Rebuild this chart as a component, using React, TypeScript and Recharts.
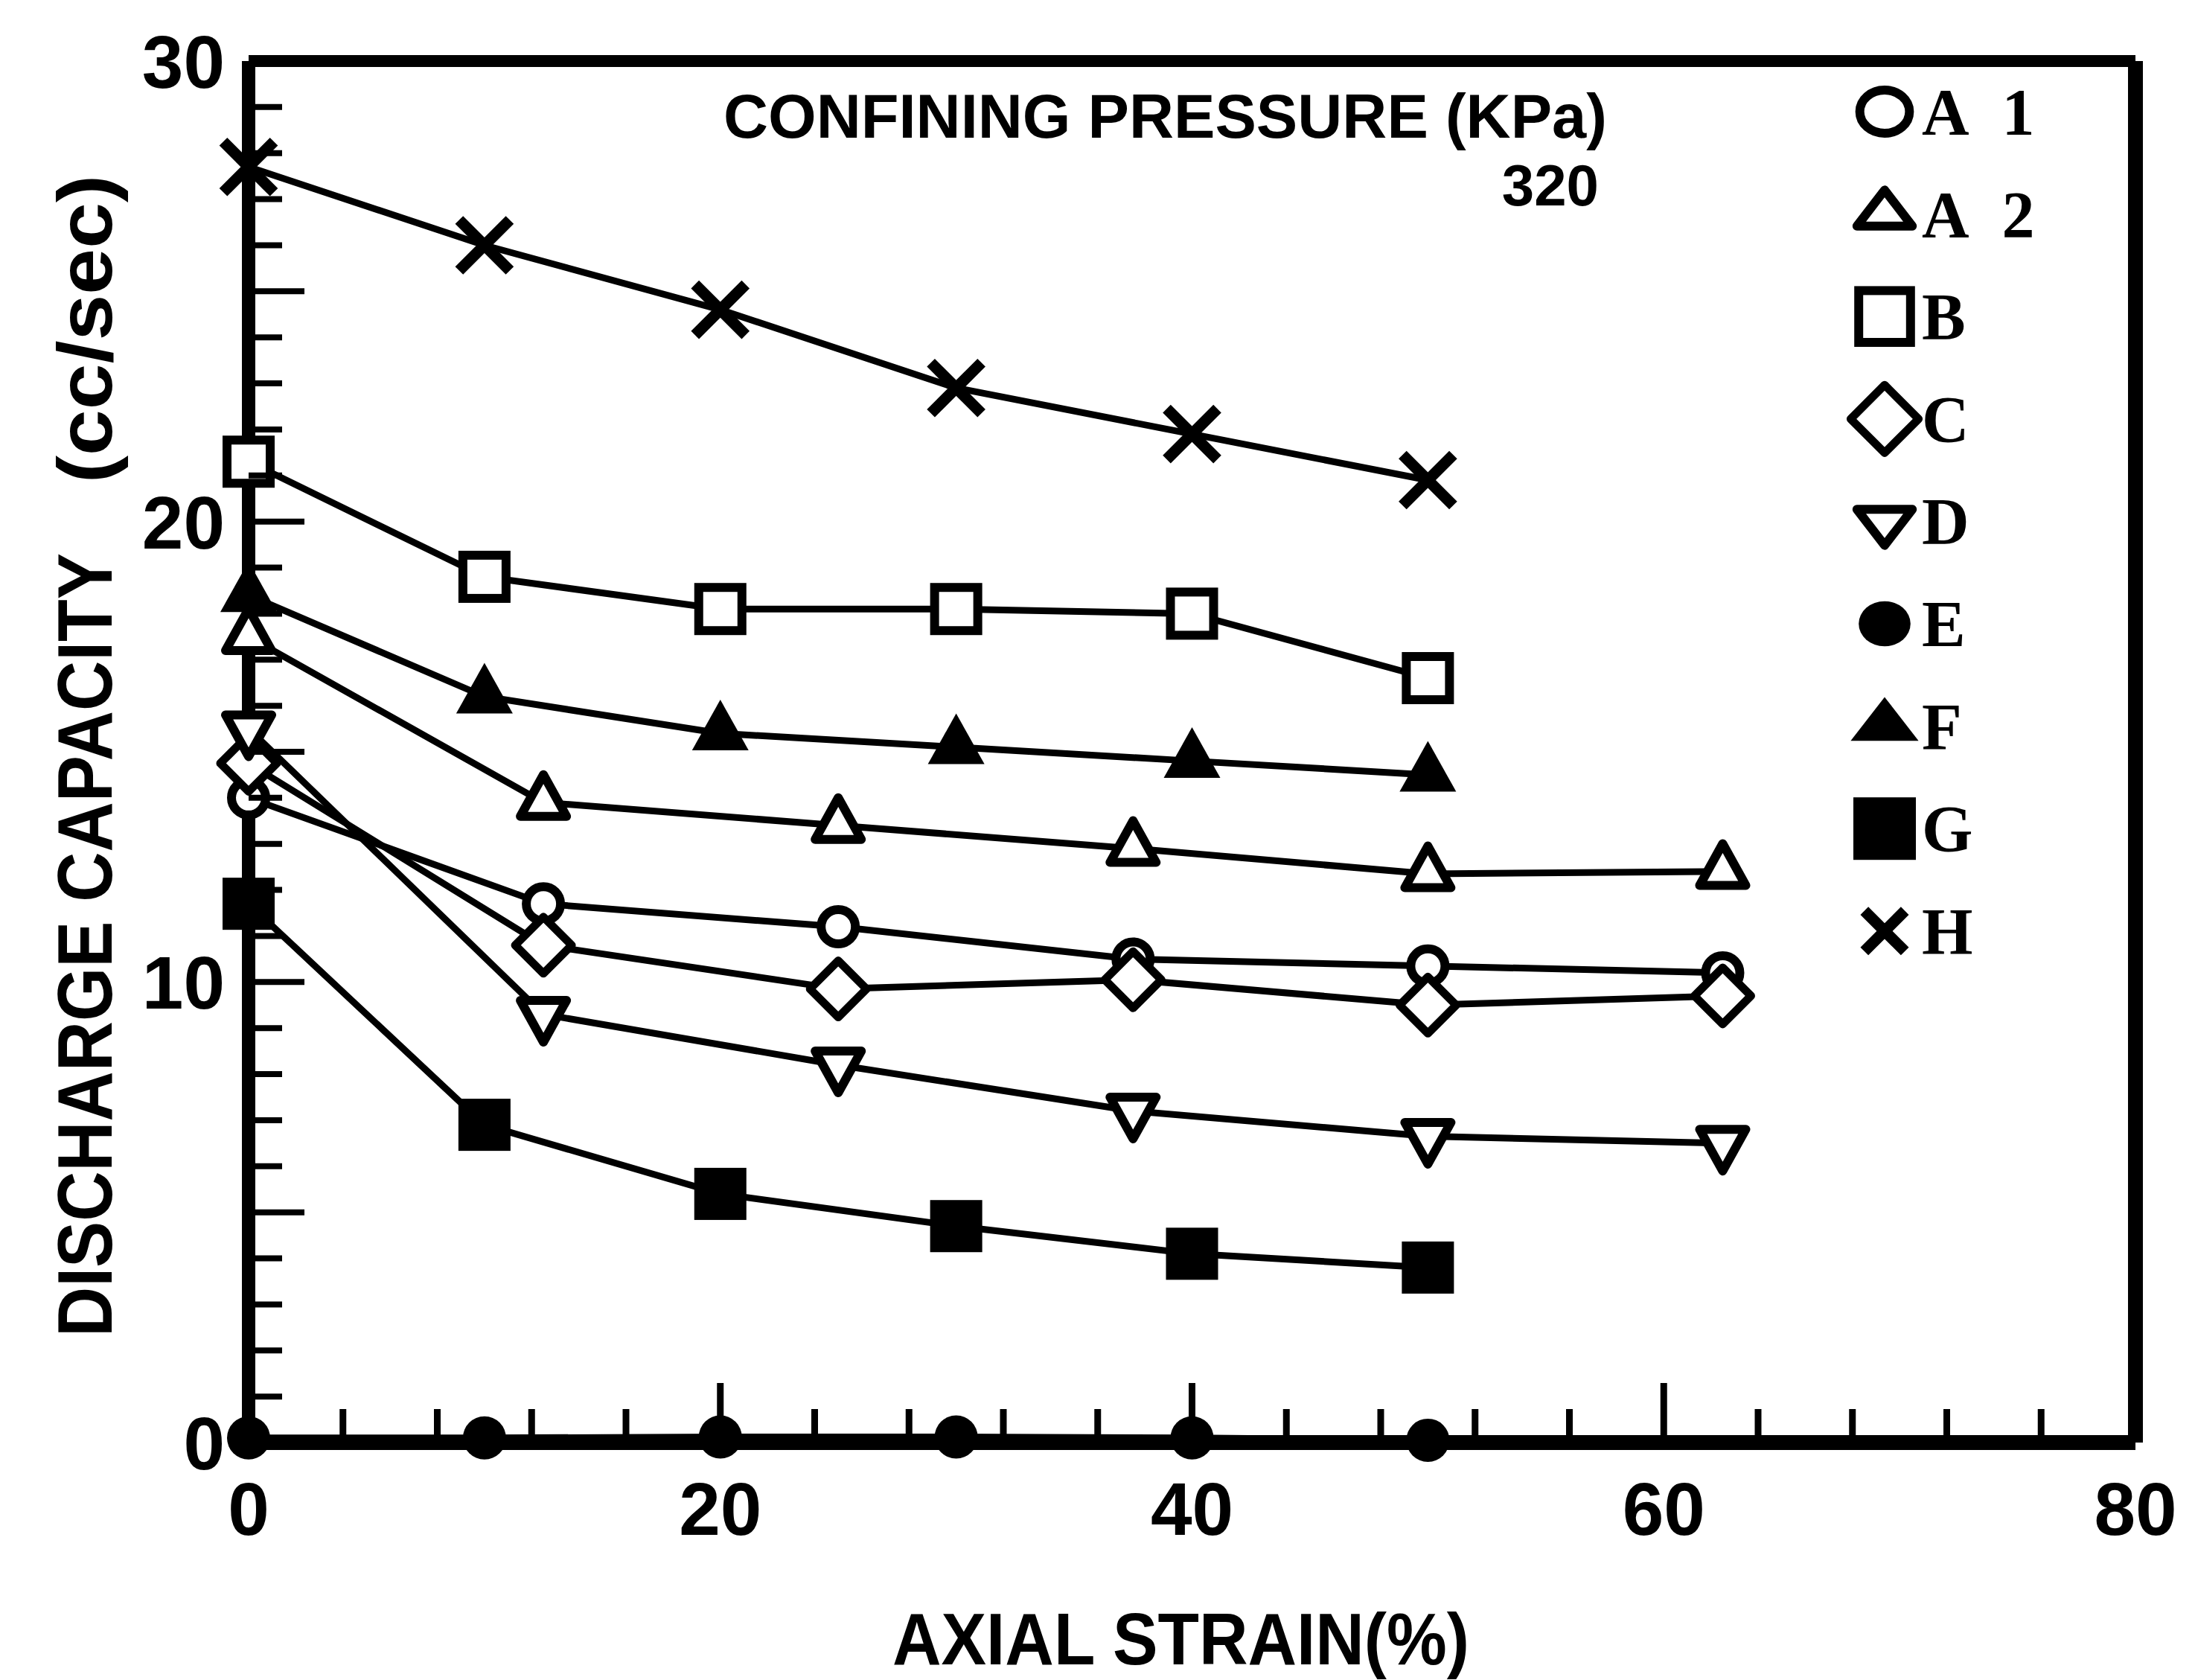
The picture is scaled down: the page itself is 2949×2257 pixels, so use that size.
import React from 'react';
import { LineChart, Line, XAxis, YAxis, ReferenceLine, Legend, Customized } from 'recharts';

// ---- data ----
const strainA = [0, 12.5, 25, 37.5, 50, 62.5];
const strainB = [0, 10, 20, 30, 40, 50];

const capA1 = [14.0, 11.7, 11.2, 10.5, 10.35, 10.2];
const capA2 = [17.5, 13.9, 13.4, 12.9, 12.35, 12.4];
const capB = [21.3, 18.8, 18.1, 18.1, 18.0, 16.6];
const capC = [14.75, 10.8, 9.85, 10.05, 9.5, 9.7];
const capD = [15.5, 9.3, 8.2, 7.2, 6.65, 6.5];
const capE = [0.1, 0.1, 0.12, 0.12, 0.1, 0.05];
const capF = [18.4, 16.2, 15.4, 15.1, 14.8, 14.5];
const capG = [11.7, 6.9, 5.4, 4.7, 4.1, 3.8];
const capH = [27.7, 26.0, 24.6, 22.9, 21.9, 20.9];

const xTicks = [0, 4, 8, 12, 16, 20, 24, 28, 32, 36, 40, 44, 48, 52, 56, 60, 64, 68, 72, 76, 80];
const yTicks = [0, 1, 2, 3, 4, 5, 6, 7, 8, 9, 10, 11, 12, 13, 14, 15, 16, 17, 18, 19, 20, 21, 22, 23, 24, 25, 26, 27, 28, 29, 30];

const xTitle = 'AXIAL STRAIN(%)';
const yTitle1 = 'DISCHARGE CAPACITY';
const yTitle2 = '(cc/sec)';
const noteLine1 = 'CONFINING PRESSURE (KPa)';
const noteLine2 = '320';

type Shape = 'circle' | 'triangle' | 'square' | 'diamond' | 'down' | 'dot' | 'filledTriangle' | 'filledSquare' | 'cross';

const seriesDefs: { name: string; xs: number[]; ys: number[]; shape: Shape }[] = [
  { name: 'A 1', xs: strainA, ys: capA1, shape: 'circle' },
  { name: 'A 2', xs: strainA, ys: capA2, shape: 'triangle' },
  { name: 'B', xs: strainB, ys: capB, shape: 'square' },
  { name: 'C', xs: strainA, ys: capC, shape: 'diamond' },
  { name: 'D', xs: strainA, ys: capD, shape: 'down' },
  { name: 'E', xs: strainB, ys: capE, shape: 'dot' },
  { name: 'F', xs: strainB, ys: capF, shape: 'filledTriangle' },
  { name: 'G', xs: strainB, ys: capG, shape: 'filledSquare' },
  { name: 'H', xs: strainB, ys: capH, shape: 'cross' },
];

const SANS = "'Liberation Sans', Arial, Helvetica, sans-serif";
const SERIF = "'Liberation Serif', 'Times New Roman', serif";

function Marker({ shape, cx, cy, s = 1, fy = 1 }: { shape: Shape; cx: number; cy: number; s?: number; fy?: number }) {
  if (cx == null || cy == null) return null;
  const k = '#000';
  switch (shape) {
    case 'circle':
      return <ellipse cx={cx} cy={cy} rx={23 * s} ry={23 * s * fy} fill="#fff" stroke={k} strokeWidth={12} />;
    case 'dot':
      return <ellipse cx={cx} cy={cy} rx={29 * s} ry={29 * s * fy} fill={k} />;
    case 'square': {
      const h = 29 * s;
      return <rect x={cx - h} y={cy - h} width={2 * h} height={2 * h} fill="#fff" stroke={k} strokeWidth={12} />;
    }
    case 'filledSquare': {
      const h = 35 * s;
      return <rect x={cx - h} y={cy - h} width={2 * h} height={2 * h} fill={k} />;
    }
    case 'diamond': {
      const h = 38 * s;
      return (
        <path d={`M${cx},${cy - h}L${cx + h},${cy}L${cx},${cy + h}L${cx - h},${cy}Z`} fill="#fff" stroke={k} strokeWidth={11} strokeLinejoin="round" />
      );
    }
    case 'triangle': {
      const w = 62 * s, h = 56 * s * fy;
      return (
        <path d={`M${cx},${cy - (2 * h) / 3}L${cx + w / 2},${cy + h / 3}L${cx - w / 2},${cy + h / 3}Z`} fill="#fff" stroke={k} strokeWidth={12} strokeLinejoin="round" />
      );
    }
    case 'down': {
      const w = 62 * s, h = 56 * s * fy;
      return (
        <path d={`M${cx},${cy + (2 * h) / 3}L${cx + w / 2},${cy - h / 3}L${cx - w / 2},${cy - h / 3}Z`} fill="#fff" stroke={k} strokeWidth={12} strokeLinejoin="round" />
      );
    }
    case 'filledTriangle': {
      const w = 76 * s, h = 68 * s * fy;
      return <path d={`M${cx},${cy - (2 * h) / 3}L${cx + w / 2},${cy + h / 3}L${cx - w / 2},${cy + h / 3}Z`} fill={k} />;
    }
    case 'cross': {
      const h = 34 * s;
      return (
        <g stroke={k} strokeWidth={15}>
          <line x1={cx - h} y1={cy - h} x2={cx + h} y2={cy + h} />
          <line x1={cx - h} y1={cy + h} x2={cx + h} y2={cy - h} />
        </g>
      );
    }
  }
  return null;
}

const XTick = (props: any) => {
  const { x, y, payload } = props;
  const v = payload.value;
  const major = v % 20 === 0;
  return (
    <g>
      <line x1={x} x2={x} y1={y} y2={y - (major ? 80 : 45)} stroke="#000" strokeWidth={9} />
      {major && (
        <text x={x} y={y + 124} textAnchor="middle" fontSize={100} fontWeight="bold" fontFamily={SANS} fill="#000">
          {v}
        </text>
      )}
    </g>
  );
};

const YTick = (props: any) => {
  const { x, y, payload } = props;
  const v = payload.value;
  const major = v % 5 === 0;
  return (
    <g>
      <line x1={x} x2={x + (major ? 75 : 45)} y1={y} y2={y} stroke="#000" strokeWidth={8} />
      {v % 10 === 0 && (
        <text x={x - 32} y={y + 36} textAnchor="end" fontSize={100} fontWeight="bold" fontFamily={SANS} fill="#000">
          {v}
        </text>
      )}
    </g>
  );
};

const Texts = () => (
  <g fill="#000" fontFamily={SANS} fontWeight="bold">
    <text x={972} y={185} fontSize={84} textLength={1187} lengthAdjust="spacingAndGlyphs">
      {noteLine1}
    </text>
    <text x={2148} y={276} fontSize={78} textAnchor="end">
      {noteLine2}
    </text>
    <text x={1199} y={2236} fontSize={98} textLength={775} lengthAdjust="spacingAndGlyphs">
      {xTitle}
    </text>
    <g transform="translate(150,1796) rotate(-90)">
      <text x={0} y={0} fontSize={103} textLength={1053} lengthAdjust="spacingAndGlyphs">
        {yTitle1}
      </text>
    </g>
    <g transform="translate(150,649) rotate(-90)">
      <text x={0} y={0} fontSize={103} textLength={414} lengthAdjust="spacingAndGlyphs">
        {yTitle2}
      </text>
    </g>
  </g>
);

const LegendBox = (props: any) => {
  const payload = (props && props.payload) || [];
  const names: string[] = payload.length ? payload.map((p: any) => p.value) : seriesDefs.map((d) => d.name);
  return (
    <svg width={340} height={1240} style={{ display: 'block' }}>
      {names.map((n, i) => {
        const def = seriesDefs.find((d) => d.name === n);
        if (!def) return null;
        const cy = 55 + i * 137.6;
        const flat = def.shape === 'triangle' || def.shape === 'down' || def.shape === 'filledTriangle';
        const round = def.shape === 'circle' || def.shape === 'dot';
        return (
          <g key={n}>
            <Marker
              shape={def.shape}
              cx={62}
              cy={cy}
              s={def.shape === 'cross' ? 0.8 : def.shape === 'circle' ? 1.45 : def.shape === 'dot' ? 1.2 : 1.2}
              fy={flat ? 0.72 : round ? 0.87 : 1}
            />
            <text x={112} y={cy + 30} fontSize={88} fontWeight="bold" fontFamily={SERIF} fill="#000" style={{ whiteSpace: 'pre' }}>
              {n.replace(' ', '\u2002')}
            </text>
          </g>
        );
      })}
    </svg>
  );
};

export default function App() {
  return (
    <div style={{ position: 'absolute', left: 0, top: 0, width: 2949, height: 2257, background: '#fff' }}>
      <LineChart width={2949} height={2257} margin={{ top: 82, right: 80, bottom: 219, left: 234 }}>
        <XAxis
          type="number"
          dataKey="x"
          domain={[0, 80]}
          ticks={xTicks}
          interval={0}
          height={100}
          tickSize={0}
          tickMargin={0}
          tickLine={false}
          tick={<XTick />}
          axisLine={{ stroke: '#000', strokeWidth: 20 }}
        />
        <YAxis
          type="number"
          domain={[0, 30]}
          ticks={yTicks}
          interval={0}
          width={100}
          tickSize={0}
          tickMargin={0}
          tickLine={false}
          tick={<YTick />}
          axisLine={{ stroke: '#000', strokeWidth: 18 }}
        />
        <ReferenceLine y={30} stroke="#000" strokeWidth={16} />
        <ReferenceLine x={80} stroke="#000" strokeWidth={20} />
        <Customized component={Texts} />
        {seriesDefs.map((d) => (
          <Line
            key={d.name}
            name={d.name}
            data={d.xs.map((x, i) => ({ x, y: d.ys[i] }))}
            dataKey="y"
            type="linear"
            stroke="#000"
            strokeWidth={9}
            isAnimationActive={false}
            activeDot={false}
            dot={(p: any) => <Marker key={`${d.name}-${p.index}`} shape={d.shape} cx={p.cx} cy={p.cy} />}
          />
        ))}
        <Legend
          layout="vertical"
          align="center"
          verticalAlign="middle"
          wrapperStyle={{ position: 'absolute', left: 2470, top: 95, width: 340, height: 1240 }}
          content={(p: any) => <LegendBox {...p} />}
        />
      </LineChart>
    </div>
  );
}
